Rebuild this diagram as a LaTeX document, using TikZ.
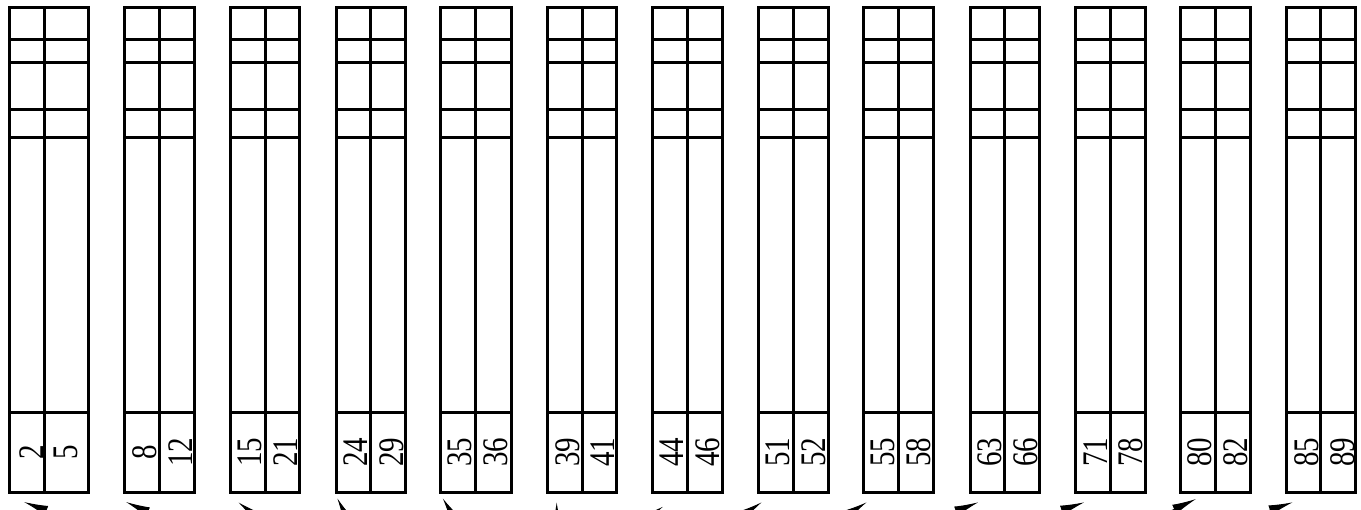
\documentclass[tikz,border=0pt]{standalone}
\usepackage{fontspec}
\setmainfont{Liberation Serif}
\newfontfamily\numfont{Liberation Serif}
\usetikzlibrary{arrows.meta}
\tikzset{
  grid/.style={line width=3pt, line join=miter},
  colbox/.style={draw, line width=3pt, line join=miter, inner sep=0pt, outer sep=0pt, anchor=north west},
  num/.style={inner sep=0pt, rotate=90, yscale=1.24, font=\numfont\fontsize{29}{30}\selectfont},
  arr/.style={line width=1pt, -{Latex[length=24pt,width=10pt]}}
}
\begin{document}
\begin{tikzpicture}[x=1pt,y=-1pt]
\useasboundingbox (0,0) rectangle (1361,510);
\clip (0,0) rectangle (1361,510);
\foreach \i/\L/\M/\R/\a/\b/\ta/\tb in {
  1/9/44.3/88.7/2/5/22.7/56.8,
  2/124/159.3/194/8/12/20.5/56.5,
  3/230/265/299.3/15/21/19.5/55.5,
  4/336/370.7/405.3/24/29/20/55.5,
  5/440.7/475/511/35/36/19.5/55.3,
  6/547.3/582/616.7/39/41/20/55.5,
  7/652/687.3/722.7/44/46/20/55.5,
  8/758/793.3/828/51/52/20/55.5,
  9/863.3/898.7/933.3/55/58/20/55.5,
  10/970/1004.3/1039/63/66/20/55.5,
  11/1075.7/1110/1145/71/78/20/55.5,
  12/1180.7/1215.3/1250/80/82/19.5/55.2,
  13/1286.7/1320.7/1355.3/85/89/20.5/55.8}{
  \node[colbox, minimum width={(\R-\L)*1pt}, minimum height=485.3pt] (c\i) at (\L,7.2) {};
  \draw[grid] (\M,7.2) -- (\M,492.5);
  \foreach \y in {39.5,62.8,109.2,137.2,412.5}{
    \draw[grid] (\L,\y) -- (\R,\y);
  }
  \node[num] (n\i a) at ({\L+\ta},452.5) {\a};
  \node[num] (n\i b) at ({\L+\tb},452.5) {\b};
}
\foreach \i/\tx/\ty/\k in {
  1/24/502/2.6, 2/126/502/2.2, 3/238.3/502.3/1.3, 4/337.3/498.3/0.5,
  5/442.7/498.3/0.6, 6/556.7/502.3/0, 7/663/506.7/-1.5, 8/761.7/502.3/-1.5,
  9/866.7/502.3/-1.6, 10/978.3/502.3/-2.5, 11/1084.3/502.3/-2.8,
  12/1196/499/-2.1, 13/1292.7/502.3/-2.9}{
  \coordinate (h\i) at (\tx,\ty);
  \coordinate (t\i) at ({\tx+\k*60},{\ty+60});
  \draw[arr] (t\i) -- (h\i);
}
\end{tikzpicture}
\end{document}
